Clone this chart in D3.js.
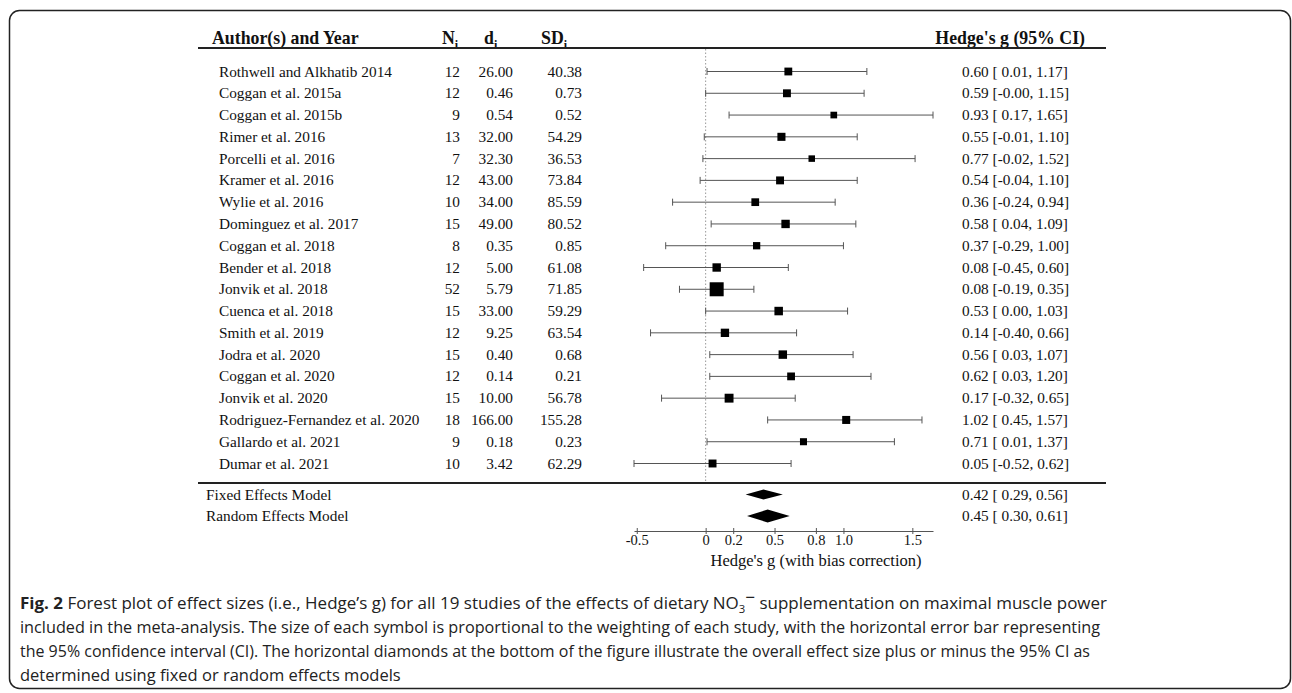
<!DOCTYPE html>
<html>
<head>
<meta charset="utf-8">
<script src="https://cdn.jsdelivr.net/npm/d3@7"></script>
<style>
  body { margin: 0; background: #fff; }
  svg text { fill: #111; }
</style>
</head>
<body>
<script>
// study data
var authors = ["Rothwell and Alkhatib 2014", "Coggan et al. 2015a", "Coggan et al. 2015b", "Rimer et al. 2016",
  "Porcelli et al. 2016", "Kramer et al. 2016", "Wylie et al. 2016", "Dominguez et al. 2017", "Coggan et al. 2018",
  "Bender et al. 2018", "Jonvik et al. 2018", "Cuenca et al. 2018", "Smith et al. 2019", "Jodra et al. 2020",
  "Coggan et al. 2020", "Jonvik et al. 2020", "Rodriguez-Fernandez et al. 2020", "Gallardo et al. 2021", "Dumar et al. 2021"];
var nVals = [12, 12, 9, 13, 7, 12, 10, 15, 8, 12, 52, 15, 12, 15, 12, 15, 18, 9, 10];
var dVals = ["26.00", "0.46", "0.54", "32.00", "32.30", "43.00", "34.00", "49.00", "0.35", "5.00", "5.79", "33.00",
  "9.25", "0.40", "0.14", "10.00", "166.00", "0.18", "3.42"];
var sdVals = ["40.38", "0.73", "0.52", "54.29", "36.53", "73.84", "85.59", "80.52", "0.85", "61.08", "71.85", "59.29",
  "63.54", "0.68", "0.21", "56.78", "155.28", "0.23", "62.29"];
var gVals = [0.60, 0.59, 0.93, 0.55, 0.77, 0.54, 0.36, 0.58, 0.37, 0.08, 0.08, 0.53, 0.14, 0.56, 0.62, 0.17, 1.02, 0.71, 0.05];
var loVals = [0.01, -0.00, 0.17, -0.01, -0.02, -0.04, -0.24, 0.04, -0.29, -0.45, -0.19, 0.00, -0.40, 0.03, 0.03, -0.32, 0.45, 0.01, -0.52];
var hiVals = [1.17, 1.15, 1.65, 1.10, 1.52, 1.10, 0.94, 1.09, 1.00, 0.60, 0.35, 1.03, 0.66, 1.07, 1.20, 0.65, 1.57, 1.37, 0.62];
var ciLabels = ["0.60 [ 0.01, 1.17]", "0.59 [-0.00, 1.15]", "0.93 [ 0.17, 1.65]", "0.55 [-0.01, 1.10]",
  "0.77 [-0.02, 1.52]", "0.54 [-0.04, 1.10]", "0.36 [-0.24, 0.94]", "0.58 [ 0.04, 1.09]", "0.37 [-0.29, 1.00]",
  "0.08 [-0.45, 0.60]", "0.08 [-0.19, 0.35]", "0.53 [ 0.00, 1.03]", "0.14 [-0.40, 0.66]", "0.56 [ 0.03, 1.07]",
  "0.62 [ 0.03, 1.20]", "0.17 [-0.32, 0.65]", "1.02 [ 0.45, 1.57]", "0.71 [ 0.01, 1.37]", "0.05 [-0.52, 0.62]"];

var models = ["Fixed Effects Model", "Random Effects Model"];
var modelG = [0.42, 0.45];
var modelLo = [0.29, 0.30];
var modelHi = [0.56, 0.61];
var modelLabels = ["0.42 [ 0.29, 0.56]", "0.45 [ 0.30, 0.61]"];

var tickVals = [-0.5, 0, 0.2, 0.5, 0.8, 1.0, 1.5];
var tickLabels = ["-0.5", "0", "0.2", "0.5", "0.8", "1.0", "1.5"];

var caption = [
  "Forest plot of effect sizes (i.e., Hedge\u2019s g) for all 19 studies of the effects of dietary NO",
  "included in the meta-analysis. The size of each symbol is proportional to the weighting of each study, with the horizontal error bar representing",
  "the 95% confidence interval (CI). The horizontal diamonds at the bottom of the figure illustrate the overall effect size plus or minus the 95% CI as",
  "determined using fixed or random effects models"
];

var width = 1292, height = 693;
var serif = "'Liberation Serif', 'Times New Roman', serif";
var sans = "'Open Sans', 'Noto Sans', sans-serif";

var svg = d3.select("body").append("svg").attr("width", width).attr("height", height);

// rounded frame
svg.append("rect").attr("x", 9.5).attr("y", 10.5).attr("width", 1281).attr("height", 678)
  .attr("rx", 10).attr("fill", "none").attr("stroke", "#222").attr("stroke-width", 1.5);

var x = d3.scaleLinear().domain([-0.52, 1.65]).range([634, 933]);
var y = d3.scalePoint().domain(authors).range([71.5, 463.5]);

// header
var head = svg.append("g").attr("font-family", serif).attr("font-weight", "bold").attr("font-size", 17.8);
head.append("text").attr("x", 212).attr("y", 44).text("Author(s) and Year");
[["N", 442], ["d", 484], ["SD", 541]].forEach(h => {
  var t = head.append("text").attr("x", h[1]).attr("y", 44).text(h[0]);
  t.append("tspan").attr("font-size", 12).attr("dy", 5).text("i");
});
head.append("text").attr("x", 1085).attr("y", 44).attr("text-anchor", "end").text("Hedge's g (95% CI)");

svg.append("line").attr("x1", 198).attr("x2", 1106).attr("y1", 48).attr("y2", 48)
  .attr("stroke", "#222").attr("stroke-width", 1.8);
svg.append("line").attr("x1", 198).attr("x2", 1106).attr("y1", 483).attr("y2", 483)
  .attr("stroke", "#222").attr("stroke-width", 1.8);

// zero reference
svg.append("line").attr("x1", x(0)).attr("x2", x(0)).attr("y1", 49).attr("y2", 482)
  .attr("stroke", "#999").attr("stroke-dasharray", "1.5,2");

// table columns
var rows = svg.append("g").attr("font-family", serif).attr("font-size", 15.3);
authors.forEach((a, i) => {
  var yy = y(a) + 5;
  rows.append("text").attr("x", 219).attr("y", yy).text(a);
  rows.append("text").attr("x", 460).attr("y", yy).attr("text-anchor", "end").text(nVals[i]);
  rows.append("text").attr("x", 513).attr("y", yy).attr("text-anchor", "end").text(dVals[i]);
  rows.append("text").attr("x", 582).attr("y", yy).attr("text-anchor", "end").text(sdVals[i]);
  rows.append("text").attr("x", 962).attr("y", yy).style("white-space", "pre").text(ciLabels[i]);
});

// marker sizes from inverse-variance weights
var weights = authors.map((a, i) => 1 / Math.pow((hiVals[i] - loVals[i]) / 3.92, 2));
var size = d3.scaleSqrt().domain(d3.extent(weights)).range([6.5, 14]);

var bars = svg.append("g").attr("stroke", "#555").attr("stroke-width", 1);
authors.forEach((a, i) => {
  var yy = y(a);
  bars.append("line").attr("x1", x(loVals[i])).attr("x2", x(hiVals[i])).attr("y1", yy).attr("y2", yy);
  bars.append("line").attr("x1", x(loVals[i])).attr("x2", x(loVals[i])).attr("y1", yy - 3.5).attr("y2", yy + 3.5);
  bars.append("line").attr("x1", x(hiVals[i])).attr("x2", x(hiVals[i])).attr("y1", yy - 3.5).attr("y2", yy + 3.5);
});
svg.append("g").selectAll("rect").data(authors).enter().append("rect")
  .attr("x", (d, i) => x(gVals[i]) - size(weights[i]) / 2)
  .attr("y", (d, i) => y(d) - size(weights[i]) / 2)
  .attr("width", (d, i) => size(weights[i]))
  .attr("height", (d, i) => size(weights[i]))
  .attr("fill", "#000");

// summary rows
var my = d3.scalePoint().domain(models).range([494.5, 516]);
var diamondH = [5, 6.5];
models.forEach((m, i) => {
  var yy = my(m);
  rows.append("text").attr("x", 206).attr("y", yy + 5).text(m);
  rows.append("text").attr("x", 962).attr("y", yy + 5).style("white-space", "pre").text(modelLabels[i]);
  svg.append("path").attr("fill", "#000")
    .attr("d", d3.line()([[x(modelLo[i]), yy], [x(modelG[i]), yy - diamondH[i]], [x(modelHi[i]), yy], [x(modelG[i]), yy + diamondH[i]]]) + "Z");
});

// x axis
var axis = svg.append("g").attr("transform", "translate(0,531)")
  .call(d3.axisBottom(x).tickValues(tickVals).tickFormat((d, i) => tickLabels[i]).tickSize(6).tickSizeOuter(0));
axis.select(".domain").attr("stroke", "#555");
axis.selectAll(".tick line").attr("stroke", "#555").attr("transform", "translate(0,-3)");
axis.selectAll(".tick text").attr("font-family", serif).attr("font-size", 14.5).attr("dy", "0.35em").attr("fill", "#111");
svg.append("text").attr("x", 816).attr("y", 566).attr("text-anchor", "middle")
  .attr("font-family", serif).attr("font-size", 16.5).text("Hedge's g (with bias correction)");

// caption
var cap = svg.append("g").attr("font-family", sans).attr("font-size", 16.5);
var capY = [609, 633, 657, 681];
var capLen = [1087, 1080, 1070, null];
caption.forEach((c, i) => {
  var t = cap.append("text").attr("x", 20).attr("y", capY[i]).style("fill", "#222");
  if (capLen[i]) t.attr("textLength", capLen[i]).attr("lengthAdjust", "spacingAndGlyphs");
  if (i === 0) {
    t.append("tspan").attr("font-weight", "bold").text("Fig. 2");
    t.append("tspan").text(" " + c);
    t.append("tspan").attr("font-size", 11).attr("dy", 4).text("3");
    t.append("tspan").attr("dy", -10).text("\u2212");
    t.append("tspan").attr("dy", 6).text(" supplementation on maximal muscle power");
  } else {
    t.text(c);
  }
});
</script>
</body>
</html>
